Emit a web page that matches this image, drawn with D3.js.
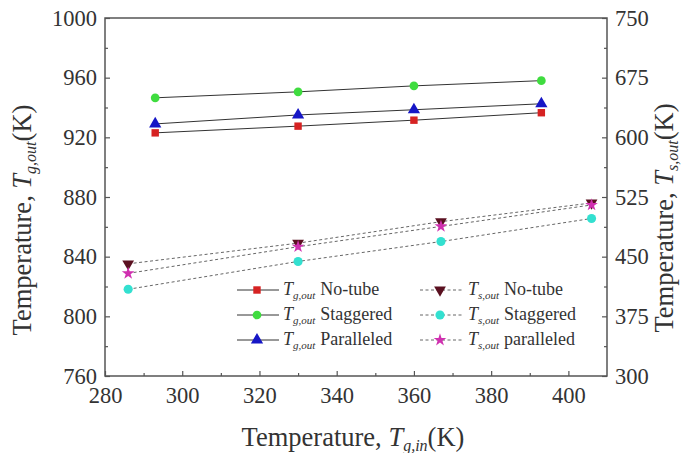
<html>
<head>
<meta charset="utf-8">
<script src="https://cdnjs.cloudflare.com/ajax/libs/d3/7.8.5/d3.min.js"></script>
<style>
  body { margin: 0; background: #fff; }
</style>
</head>
<body>
<svg id="chart" width="683" height="453"></svg>
<script>
// values
const tgX = [293, 330, 360, 393];
const tgNoTube = [923, 927.5, 931.5, 936.5];
const tgStaggered = [946.5, 950.5, 954.5, 958];
const tgParalleled = [929, 935, 938.5, 942.5];

const tsX = [286, 330, 367, 406];
const tsNoTube = [441, 467, 494, 517.5];
const tsStaggered = [409, 444, 469, 498];
const tsParalleled = [429, 462.5, 488, 515];

const xTicks = [280, 300, 320, 340, 360, 380, 400];
const leftTicks = [760, 800, 840, 880, 920, 960, 1000];
const rightTicks = [300, 375, 450, 525, 600, 675, 750];

const L = 105, R = 607, T = 18, B = 376;

const svg = d3.select("#chart");

const x = d3.scaleLinear().domain([280, 410]).range([L, R]);
const yL = d3.scaleLinear().domain([760, 1000]).range([B, T]);
const yR = d3.scaleLinear().domain([300, 750]).range([B, T]);

const series = [
  { name: "No-tube", sub: "g,out", xs: tgX, ys: tgNoTube, y: yL, color: "#d62222", sym: d3.symbolSquare, size: 55, rot: 0, dash: null },
  { name: "Staggered", sub: "g,out", xs: tgX, ys: tgStaggered, y: yL, color: "#3fdc3f", sym: d3.symbolCircle, size: 60, rot: 0, dash: null },
  { name: "Paralleled", sub: "g,out", xs: tgX, ys: tgParalleled, y: yL, color: "#1616c6", sym: d3.symbolTriangle, size: 65, rot: 0, dash: null },
  { name: "No-tube", sub: "s,out", xs: tsX, ys: tsNoTube, y: yR, color: "#5a1020", sym: d3.symbolTriangle, size: 60, rot: 180, dash: "3,2.5" },
  { name: "Staggered", sub: "s,out", xs: tsX, ys: tsStaggered, y: yR, color: "#33e0d0", sym: d3.symbolCircle, size: 65, rot: 0, dash: "3,2.5" },
  { name: "paralleled", sub: "s,out", xs: tsX, ys: tsParalleled, y: yR, color: "#d030b0", sym: d3.symbolStar, size: 50, rot: 0, dash: "3,2.5" }
];

// frame
svg.append("rect")
  .attr("x", L).attr("y", T).attr("width", R - L).attr("height", B - T)
  .attr("fill", "none").attr("stroke", "#555").attr("stroke-width", 1.5);

function styleAxis(g) {
  g.select(".domain").remove();
  g.selectAll("line").attr("stroke", "#555").attr("stroke-width", 1.2);
  g.selectAll("text").attr("font-size", 22.5).attr("fill", "#333");
}

// x axis
svg.append("g").attr("transform", `translate(0,${B})`)
  .call(d3.axisBottom(x).tickValues(d3.range(290, 410, 20)).tickSizeInner(-3).tickSizeOuter(0).tickFormat(""))
  .call(styleAxis);
svg.append("g").attr("transform", `translate(0,${B})`)
  .call(d3.axisBottom(x).tickValues(xTicks).tickSizeInner(-5).tickSizeOuter(0).tickPadding(11).tickFormat(d3.format("d")))
  .call(styleAxis);

// left axis
svg.append("g").attr("transform", `translate(${L},0)`)
  .call(d3.axisLeft(yL).tickValues(d3.range(780, 1000, 40)).tickSizeInner(-3).tickSizeOuter(0).tickFormat(""))
  .call(styleAxis);
svg.append("g").attr("transform", `translate(${L},0)`)
  .call(d3.axisLeft(yL).tickValues(leftTicks).tickSizeInner(-5).tickSizeOuter(0).tickPadding(8).tickFormat(d3.format("d")))
  .call(styleAxis);

// right axis
svg.append("g").attr("transform", `translate(${R},0)`)
  .call(d3.axisRight(yR).tickValues(d3.range(337.5, 750, 75)).tickSizeInner(-3).tickSizeOuter(0).tickFormat(""))
  .call(styleAxis);
svg.append("g").attr("transform", `translate(${R},0)`)
  .call(d3.axisRight(yR).tickValues(rightTicks).tickSizeInner(-5).tickSizeOuter(0).tickPadding(8).tickFormat(d3.format("d")))
  .call(styleAxis);

// lines and markers
series.forEach(s => {
  const pts = s.xs.map((v, i) => [v, s.ys[i]]);
  const line = d3.line().x(d => x(d[0])).y(d => s.y(d[1]));
  svg.append("path").datum(pts)
    .attr("d", line)
    .attr("fill", "none")
    .attr("stroke", s.dash ? "#666" : "#333")
    .attr("stroke-width", 1)
    .attr("stroke-dasharray", s.dash);
  svg.append("g").selectAll("path").data(pts).join("path")
    .attr("d", d3.symbol().type(s.sym).size(s.size))
    .attr("transform", d => `translate(${x(d[0])},${s.y(d[1])}) rotate(${s.rot})`)
    .attr("fill", s.color);
});

// legend
const legendCols = [{ lx: 237, tx: 283 }, { lx: 420, tx: 468 }];
const legendRows = [290, 315, 340];
series.forEach((s, i) => {
  const c = legendCols[Math.floor(i / 3)];
  const yy = legendRows[i % 3];
  const g = svg.append("g");
  g.append("line").attr("x1", c.lx).attr("x2", c.lx + 42).attr("y1", yy).attr("y2", yy)
    .attr("stroke", s.dash ? "#666" : "#333").attr("stroke-width", 1).attr("stroke-dasharray", s.dash);
  g.append("path").attr("d", d3.symbol().type(s.sym).size(s.size))
    .attr("transform", `translate(${c.lx + 20},${yy}) rotate(${s.rot})`).attr("fill", s.color);
  const t = g.append("text").attr("x", c.tx).attr("y", yy + 5).attr("font-size", 18);
  t.append("tspan").attr("font-style", "italic").text("T");
  t.append("tspan").attr("font-style", "italic").attr("font-size", 11).attr("dy", 4).text(s.sub);
  t.append("tspan").attr("dy", -4).attr("dx", 5).text(s.name);
});

// axis titles
function title(t, sub) {
  t.append("tspan").text("Temperature, ");
  t.append("tspan").attr("font-style", "italic").text("T");
  t.append("tspan").attr("font-style", "italic").attr("font-size", 16).attr("dy", 5).text(sub);
  t.append("tspan").attr("dy", -5).text("(K)");
}
title(svg.append("text").attr("x", 353).attr("y", 446).attr("text-anchor", "middle").attr("font-size", 26.5), "g,in");
title(svg.append("text").attr("transform", "translate(31,220) rotate(-90)").attr("text-anchor", "middle").attr("font-size", 26.5), "g,out");
title(svg.append("text").attr("transform", "translate(673,218) rotate(-90)").attr("text-anchor", "middle").attr("font-size", 26.5), "s,out");

// serif everywhere, set on each text
svg.selectAll("text")
  .style("font-family", '"Liberation Serif"')
  .style("fill", "#333");
</script>
</body>
</html>
